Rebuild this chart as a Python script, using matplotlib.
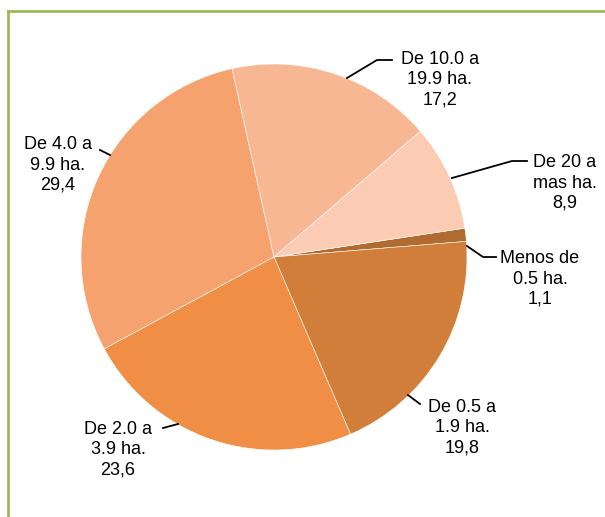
import matplotlib.pyplot as plt
import numpy as np

plt.rcParams['font.family'] = ['Liberation Sans Narrow', 'Liberation Sans', 'DejaVu Sans']

# data (share of farms by size, %)
labels = ['Menos de\n0.5 ha.', 'De 0.5 a\n1.9 ha.', 'De 2.0 a\n3.9 ha.',
          'De 4.0 a\n9.9 ha.', 'De 10.0 a\n19.9 ha.', 'De 20 a\nmas ha.']
values = [1.1, 19.8, 23.6, 29.4, 17.2, 8.9]
colors = ['#B06B30', '#D07E3A', '#F08E45', '#F5A26F', '#F8B793', '#FBCBB4']

W, H = 605, 517
cx, cy, R = 274, 257, 193


def px(x, y):
    # pixel position -> data units (pie radius = 1)
    return (x - cx) / R, (cy - y) / R


fig = plt.figure(figsize=(W / 100, H / 100), dpi=100)
ax = fig.add_axes([0, 0, 1, 1])

ax.pie(values, colors=colors, startangle=8.6, counterclock=False, radius=1,
       wedgeprops=dict(edgecolor='white', linewidth=0.4))

ax.set_xlim(-cx / R, (W - cx) / R)
ax.set_ylim((cy - H) / R, cy / R)
ax.set_aspect('equal', adjustable='datalim')
ax.axis('off')

# label text positions and leader lines (pixel layout)
text_pos = [(540, 279), (462, 428), (118, 450), (58, 165), (440, 80), (565, 183)]
leaders = [
    [(467, 246), (483, 257), (496, 257)],
    [(408, 395), (420, 404)],
    [(178, 424), (163, 428)],
    [(110, 155), (100, 150)],
    [(347, 78), (377, 60), (392, 60)],
    [(452, 178), (512, 161), (527, 161)],
]

for lab, val, tp, ld in zip(labels, values, text_pos, leaders):
    tx, ty = px(*tp)
    ax.text(tx, ty, lab + '\n' + ('%.1f' % val).replace('.', ','),
            ha='center', va='center', fontsize=13, linespacing=1.25, color='black')
    pts = np.array([px(*p) for p in ld])
    ax.plot(pts[:, 0], pts[:, 1], color='black', linewidth=1.3)

# green frame
x0, y0 = px(8, 11)
x1, y1 = px(W + 5, H + 5)
ax.plot([x0, x1], [y0, y0], color='#9BBB59', linewidth=2, clip_on=False)
ax.plot([x0, x0], [y0, y1], color='#9BBB59', linewidth=2, clip_on=False)

fig.savefig('out.png', dpi=100)
